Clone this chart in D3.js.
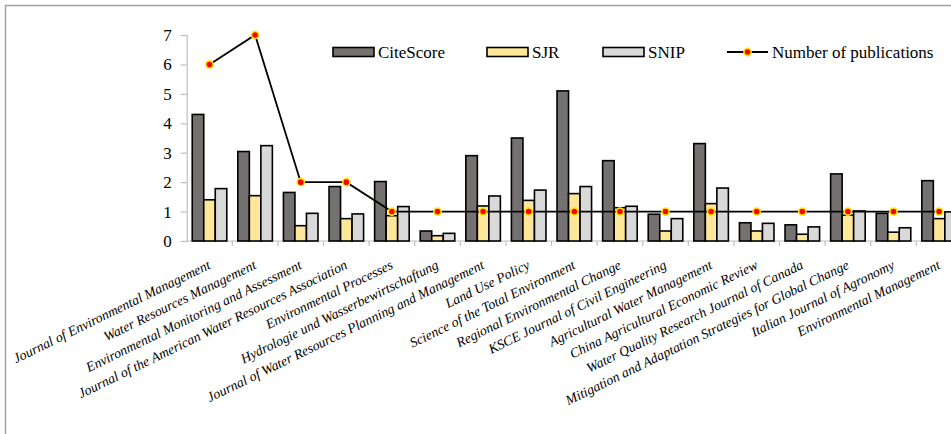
<!DOCTYPE html>
<html>
<head>
<meta charset="utf-8">
<script src="https://cdn.jsdelivr.net/npm/d3@7"></script>
<style>
  body { margin: 0; background: #fff; }
  svg text { font-family: "Liberation Serif", "Times New Roman", serif; }
</style>
</head>
<body>
<svg id="chart"></svg>
<script>
var journals = [
  "Journal of Environmental Management",
  "Water Resources Management",
  "Environmental Monitoring and Assessment",
  "Journal of the American Water Resources Association",
  "Environmental Processes",
  "Hydrologie und Wasserbewirtschaftung",
  "Journal of Water Resources Planning and Management",
  "Land Use Policy",
  "Science of the Total Environment",
  "Regional Environmental Change",
  "KSCE Journal of Civil Engineering",
  "Agricultural Water Management",
  "China Agricultural Economic Review",
  "Water Quality Research Journal of Canada",
  "Mitigation and Adaptation Strategies for Global Change",
  "Italian Journal of Agronomy",
  "Environmental Management"
];
var citeScore = [4.3, 3.04, 1.65, 1.85, 2.02, 0.34, 2.9, 3.5, 5.1, 2.73, 0.91, 3.31, 0.62, 0.55, 2.28, 0.94, 2.05];
var sjr = [1.4, 1.54, 0.52, 0.76, 0.86, 0.18, 1.19, 1.38, 1.61, 1.13, 0.34, 1.27, 0.34, 0.23, 0.88, 0.3, 0.76];
var snip = [1.78, 3.24, 0.94, 0.92, 1.17, 0.26, 1.53, 1.73, 1.85, 1.18, 0.76, 1.8, 0.6, 0.48, 1.02, 0.45, 0.99];
var publications = [6, 7, 2, 2, 1, 1, 1, 1, 1, 1, 1, 1, 1, 1, 1, 1, 1];
var seriesNames = ["CiteScore", "SJR", "SNIP"];
var seriesColors = ["#767171", "#FFE699", "#D9D9D9"];
var yTicks = [0, 1, 2, 3, 4, 5, 6, 7];

var W = 951, H = 434;
var FONT = "'Liberation Serif', 'Times New Roman', serif";
var svg = d3.select("#chart").attr("width", W).attr("height", H);

// outer frame, cut off on the right and bottom like the source
svg.append("rect")
  .attr("x", 5.5).attr("y", 5.5)
  .attr("width", W + 20).attr("height", H + 20)
  .attr("fill", "none").attr("stroke", "#a0a0a0").attr("stroke-width", 1.5);

var x0 = 186.7, step = 45.6;
var x = d3.scaleBand().domain(journals).range([x0, x0 + step * journals.length]).padding(0);
var xs = d3.scaleBand().domain(seriesNames).range([0, x.bandwidth()]).paddingInner(0).paddingOuter(0.48);
var y = d3.scaleLinear().domain([0, 7]).range([241, 35]);

var rows = journals.map(function(j, i) {
  return { name: j, vals: [citeScore[i], sjr[i], snip[i]], pub: publications[i] };
});

// y axis
var yAxis = svg.append("g").attr("transform", "translate(" + x0 + ",0)")
  .call(d3.axisLeft(y).tickValues(yTicks).tickSize(6).tickPadding(9).tickFormat(d3.format("d")))
  .attr("font-family", null);
yAxis.select(".domain").attr("stroke", "#bfbfbf").attr("stroke-width", 1.2);
yAxis.selectAll(".tick line").attr("stroke", "#bfbfbf").attr("stroke-width", 1.2);
yAxis.selectAll(".tick text").attr("font-size", 17).attr("fill", "#000").style("font-family", FONT);

// x axis, ticks sit on the category boundaries
var xAxisG = svg.append("g");
xAxisG.append("line")
  .attr("x1", x0).attr("x2", W + 10).attr("y1", y(0)).attr("y2", y(0))
  .attr("stroke", "#bfbfbf").attr("stroke-width", 1.2);
xAxisG.selectAll(".xt").data(journals).join("line").attr("class", "xt")
  .attr("x1", function(d) { return x(d) + x.bandwidth(); })
  .attr("x2", function(d) { return x(d) + x.bandwidth(); })
  .attr("y1", y(0)).attr("y2", y(0) + 5)
  .attr("stroke", "#bfbfbf").attr("stroke-width", 1.2);

// bars
var groups = svg.selectAll(".grp").data(rows).join("g").attr("class", "grp")
  .attr("transform", function(d) { return "translate(" + x(d.name) + ",0)"; });
groups.selectAll("rect").data(function(d) {
  return d.vals.map(function(v, k) { return { s: seriesNames[k], v: v, k: k }; });
}).join("rect")
  .attr("x", function(d) { return xs(d.s); })
  .attr("y", function(d) { return y(d.v); })
  .attr("width", xs.bandwidth())
  .attr("height", function(d) { return y(0) - y(d.v); })
  .attr("fill", function(d) { return seriesColors[d.k]; })
  .attr("stroke", "#000").attr("stroke-width", 1.6);

// publications line
var cx = function(d) { return x(d.name) + x.bandwidth() / 2; };
svg.append("path").datum(rows)
  .attr("d", d3.line().x(cx).y(function(d) { return y(d.pub); }))
  .attr("fill", "none").attr("stroke", "#000").attr("stroke-width", 1.8);
svg.selectAll(".dot").data(rows).join("circle").attr("class", "dot")
  .attr("cx", cx).attr("cy", function(d) { return y(d.pub); })
  .attr("r", 3.6).attr("fill", "#FF0000").attr("stroke", "#FFE600").attr("stroke-width", 1.6);

// category labels
svg.selectAll(".xl").data(journals).join("text").attr("class", "xl")
  .attr("transform", function(d) { return "translate(" + (x(d) + x.bandwidth() / 2 + 2) + ",268) rotate(-26)"; })
  .attr("text-anchor", "end")
  .style("font-family", FONT)
  .attr("font-size", 13.8).attr("font-style", "italic")
  .text(function(d) { return d; });

// legend
var legY = 52;
var legBoxes = [333, 487, 603];
seriesNames.forEach(function(s, k) {
  svg.append("rect").attr("x", legBoxes[k]).attr("y", legY - 4.5).attr("width", 41).attr("height", 9)
    .attr("fill", seriesColors[k]).attr("stroke", "#000").attr("stroke-width", 1.6);
  svg.append("text").attr("x", legBoxes[k] + 45).attr("y", legY + 6)
    .style("font-family", FONT).attr("font-size", 17).text(s);
});
svg.append("line").attr("x1", 727).attr("x2", 768).attr("y1", legY).attr("y2", legY)
  .attr("stroke", "#000").attr("stroke-width", 1.8);
svg.append("circle").attr("cx", 747.5).attr("cy", legY).attr("r", 3.6)
  .attr("fill", "#FF0000").attr("stroke", "#FFE600").attr("stroke-width", 1.6);
svg.append("text").attr("x", 772).attr("y", legY + 6).style("font-family", FONT)
  .attr("font-size", 17).text("Number of publications");
</script>
</body>
</html>
